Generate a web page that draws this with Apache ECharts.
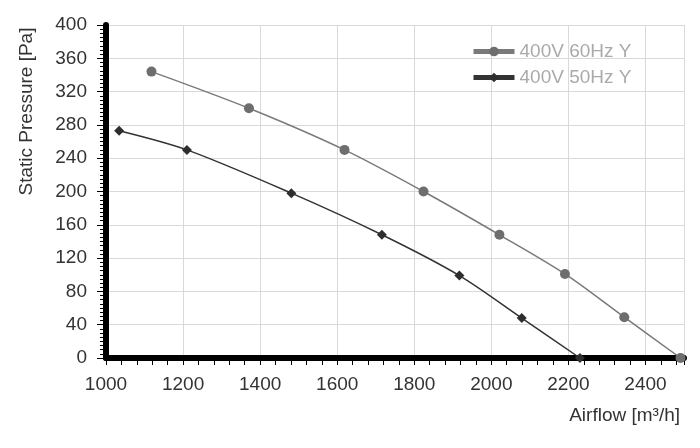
<!DOCTYPE html>
<html>
<head>
<meta charset="utf-8">
<script src="https://cdn.jsdelivr.net/npm/echarts@6/dist/echarts.min.js"></script>
<style>
html,body{margin:0;padding:0;background:#fff;}
#chart{width:700px;height:448px;}
</style>
</head>
<body>
<div id="chart"></div>
<script>
const seriesNames = ['400V 60Hz Y', '400V 50Hz Y'];
const airflow60 = [1118, 1371, 1619, 1824, 2021, 2191, 2345, 2491];
const pressure60 = [344, 300, 250, 200, 148, 101, 49, 0];
const airflow50 = [1034, 1210, 1481, 1716, 1917, 2079, 2230];
const pressure50 = [273, 250, 198, 148, 99, 48, 0];
const xName = 'Airflow [m³/h]';
const yName = 'Static Pressure [Pa]';

const font = 'Liberation Sans, Arial, Helvetica, sans-serif';
const chart = echarts.init(document.getElementById('chart'), null, {renderer: 'canvas'});

function pairs(xs, ys) { return xs.map((x, i) => [x, ys[i]]); }

chart.setOption({
  animation: false,
  backgroundColor: '#fff',
  textStyle: {fontFamily: font},
  grid: {left: 106, right: 16, top: 25, bottom: 90, containLabel: false},
  legend: {
    orient: 'vertical',
    left: 471,
    top: 42,
    padding: 0,
    itemWidth: 41,
    itemHeight: 12,
    itemGap: 7,
    textStyle: {color: '#aaaaaa', fontSize: 19, fontFamily: font},
    data: [
      {name: seriesNames[0], lineStyle: {width: 5}},
      {name: seriesNames[1], lineStyle: {width: 5}}
    ]
  },
  xAxis: {
    type: 'value',
    min: 1000, max: 2500, interval: 200,
    name: xName,
    nameLocation: 'end',
    nameGap: -4,
    nameTextStyle: {color: '#333', fontSize: 19, align: 'right', verticalAlign: 'top', padding: [48, 0, 0, 0], fontFamily: font},
    axisLine: {show: true, onZero: false, lineStyle: {color: '#000', width: 6}},
    axisTick: {show: true, length: 7, lineStyle: {color: '#000', width: 1}},
    minorTick: {show: true, splitNumber: 5, length: 7, lineStyle: {color: '#000', width: 1}},
    axisLabel: {color: '#333', fontSize: 19, margin: 17, showMaxLabel: false, fontFamily: font, formatter: v => String(v)},
    splitLine: {show: true, lineStyle: {color: '#d9d9d9', width: 1}}
  },
  yAxis: {
    type: 'value',
    min: 0, max: 400, interval: 40,
    name: yName,
    nameLocation: 'middle',
    nameGap: 70,
    nameRotate: 90,
    nameTextStyle: {color: '#333', fontSize: 19, padding: [0, 0, 0, 160], fontFamily: font},
    axisLine: {show: true, onZero: false, lineStyle: {color: '#000', width: 6}},
    axisTick: {show: true, length: 9, lineStyle: {color: '#000', width: 1}},
    minorTick: {show: true, splitNumber: 8, length: 6, lineStyle: {color: '#000', width: 1}},
    axisLabel: {color: '#333', fontSize: 19, margin: 19, fontFamily: font},
    splitLine: {show: true, lineStyle: {color: '#d9d9d9', width: 1}}
  },
  series: [
    {
      name: seriesNames[0],
      type: 'line',
      smooth: 0.3,
      data: pairs(airflow60, pressure60),
      symbol: 'circle',
      symbolSize: 10,
      itemStyle: {color: '#6e6e6e'},
      lineStyle: {color: '#7a7a7a', width: 1.5},
      z: 3
    },
    {
      name: seriesNames[1],
      type: 'line',
      smooth: 0.3,
      data: pairs(airflow50, pressure50),
      symbol: 'diamond',
      symbolSize: 10,
      itemStyle: {color: '#2e2e2e'},
      lineStyle: {color: '#333333', width: 1.5},
      z: 3
    }
  ]
});
</script>
</body>
</html>
